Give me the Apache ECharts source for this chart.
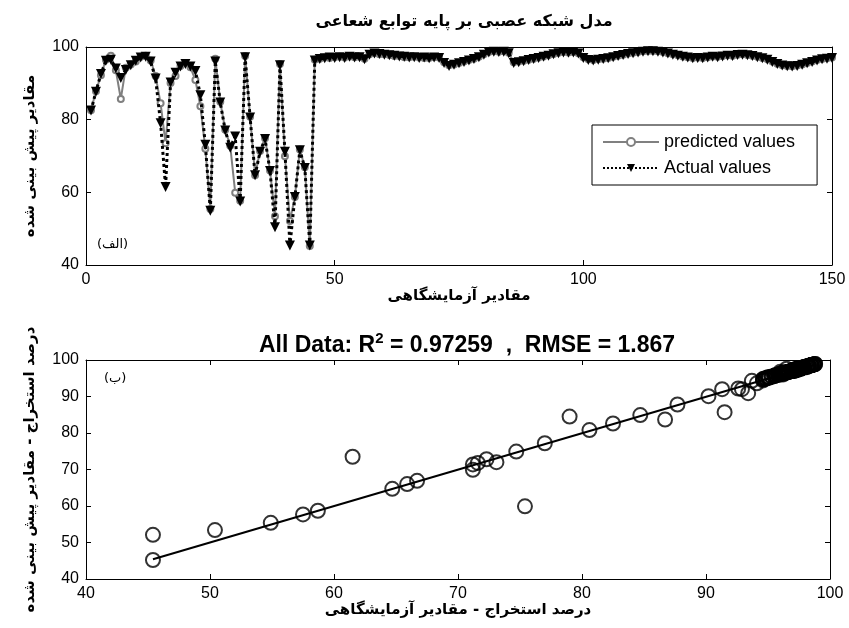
<!DOCTYPE html>
<html>
<head>
<meta charset="utf-8">
<script src="https://cdn.jsdelivr.net/npm/echarts@6/dist/echarts.min.js"></script>
<style>
  html, body { margin: 0; padding: 0; background: #fff; }
  #chart { width: 849px; height: 628px; }
</style>
</head>
<body>
<div id="chart"></div>
<script>
// measured (actual) extraction values, sample 1..150
const actualValues = [
  82.5, 87.7, 92.6, 96.2, 96.5, 94.1, 91.5, 93.7, 95.0, 96.2,
  97.1, 97.3, 96.0, 91.3, 79.0, 61.5, 90.2, 92.9, 94.6, 95.3,
  94.6, 93.4, 86.7, 73.1, 54.9, 96.0, 84.7, 77.0, 72.3, 75.4,
  57.5, 97.2, 80.6, 64.7, 71.2, 74.7, 65.9, 50.4, 95.0, 71.2,
  45.4, 58.7, 71.6, 66.7, 45.4,
  96.3, 96.7, 96.9, 97.1, 97.0, 97.2, 97.0, 97.3, 97.1, 97.2,
  96.6, 97.9, 98.2, 98.1, 97.9, 97.7, 97.6, 97.4, 97.3, 97.1,
  97.2, 97.0, 97.1, 96.9, 97.1, 97.0, 95.6, 94.8, 95.1, 95.5,
  95.9, 96.3, 96.7, 97.2, 97.9, 98.5, 98.7, 98.6, 98.7, 98.3,
  95.6, 95.8, 96.1, 96.4, 96.7, 97.0, 97.3, 97.6, 98.0, 98.3,
  98.5, 98.4, 98.5, 98.2, 97.0, 96.4, 96.3, 96.5, 96.7, 96.9,
  97.2, 97.5, 97.8, 98.1, 98.3, 98.5, 98.7, 98.8, 98.8, 98.7,
  98.5, 98.2, 97.9, 97.6, 97.3, 97.1, 96.9, 97.0, 96.9, 97.1,
  97.3, 97.2, 97.4, 97.6, 97.5, 97.8, 97.9, 97.7, 97.5, 97.2,
  96.9, 96.5, 95.9, 95.3, 94.9, 94.7, 94.6, 94.8, 95.1, 95.5,
  95.9, 96.3, 96.6, 96.8, 97.0
]

// RBF network predictions for the same samples
const predictedValues = [
  82.6, 87.8, 92.2, 96.5, 97.6, 93.6, 85.7, 94.3, 95.2, 96.0,
  97.3, 97.6, 96.3, 92.0, 84.5, 73.5, 90.1, 92.0, 94.8, 95.5,
  94.4, 90.9, 83.7, 72.0, 55.4, 96.8, 84.9, 77.2, 72.8, 59.9,
  57.7, 97.5, 80.8, 64.7, 71.4, 74.9, 66.0, 53.4, 95.3, 69.9,
  52.1, 58.7, 71.8, 66.9, 45.2,
  96.5, 96.8, 97.1, 97.0, 97.2, 97.3, 97.1, 97.4, 97.2, 97.3,
  96.8, 98.0, 98.3, 98.0, 98.0, 97.8, 97.5, 97.5, 97.2, 97.2,
  97.3, 97.1, 97.0, 97.0, 97.2, 97.1, 95.8, 95.0, 95.2, 95.6,
  96.0, 96.4, 96.8, 97.3, 98.0, 98.6, 98.8, 98.7, 98.8, 98.4,
  95.8, 96.0, 96.2, 96.5, 96.8, 97.1, 97.4, 97.7, 98.1, 98.4,
  98.6, 98.5, 98.6, 98.3, 97.2, 96.6, 96.4, 96.6, 96.8, 97.0,
  97.3, 97.6, 97.9, 98.2, 98.4, 98.6, 98.8, 98.9, 98.9, 98.8,
  98.6, 98.3, 98.0, 97.7, 97.4, 97.2, 97.0, 97.1, 97.0, 97.2,
  97.4, 97.3, 97.5, 97.7, 97.6, 97.9, 98.0, 97.8, 97.6, 97.3,
  97.0, 96.6, 96.0, 95.4, 95.0, 94.8, 94.7, 94.9, 95.2, 95.6,
  96.0, 96.4, 96.7, 96.9, 97.1
]

// regression fit line end points (actual -> predicted)
const fitLine = [[45.4, 45.4], [98.8, 98.7]]

const topTicksX = { min: 0, max: 150, interval: 50 }
const topTicksY = { min: 40, max: 100, interval: 20 }
const bottomTicks = { min: 40, max: 100, interval: 10 }

const faFont = 'DejaVu Sans'
const numFont = 'Liberation Sans'

const chart = echarts.init(document.getElementById('chart'), null, { renderer: 'canvas' })

const baseAxis = (extra) => ({
  type: 'value',
  axisLine: { show: true, onZero: false, lineStyle: { color: '#000', width: 1 } },
  axisTick: { show: true, inside: true, length: 5, lineStyle: { color: '#000' } },
  axisLabel: { color: '#000', fontSize: 16, fontFamily: numFont, margin: 7 },
  splitLine: { show: false },
  ...extra
})

const hiddenLabels = { axisLabel: { show: false } }

const nameStyle = { color: '#000', fontSize: 15, fontWeight: 'bold', fontFamily: faFont }

const option = {
  animation: false,
  backgroundColor: '#fff',
  title: [
    {
      text: 'مدل شبکه عصبی بر پایه توابع شعاعی',
      left: 459,
      top: 9,
      textAlign: 'center',
      textStyle: { fontSize: 16, fontWeight: 'bold', fontFamily: faFont, color: '#000' }
    },
    {
      text: 'All Data: R{sup|2} = 0.97259  ,  RMSE = 1.867',
      left: 462,
      top: 326,
      textAlign: 'center',
      textStyle: {
        fontSize: 23, fontWeight: 'bold', fontFamily: numFont, color: '#000',
        rich: {
          sup: { fontSize: 15, fontWeight: 'bold', fontFamily: numFont, verticalAlign: 'top', padding: [0, 0, 14, 0] }
        }
      }
    }
  ],
  legend: {
    orient: 'vertical',
    left: 592,
    top: 125,
    padding: [8, 22, 8, 10],
    itemWidth: 56,
    itemHeight: 10,
    itemGap: 8,
    borderColor: '#000',
    borderWidth: 1,
    backgroundColor: '#fff',
    textStyle: { fontSize: 18, fontFamily: numFont, color: '#000' },
    data: ['predicted values', 'Actual values']
  },
  grid: [
    { left: 86, right: 17, top: 47, height: 218 },
    { left: 86, right: 19, top: 360, height: 219 }
  ],
  xAxis: [
    baseAxis({
      gridIndex: 0, position: 'bottom', ...topTicksX,
      name: 'مقادیر آزمایشگاهی', nameLocation: 'middle', nameGap: 18, nameTextStyle: nameStyle
    }),
    baseAxis({ gridIndex: 0, position: 'top', ...topTicksX, ...hiddenLabels }),
    baseAxis({
      gridIndex: 1, position: 'bottom', ...bottomTicks,
      name: 'درصد استخراج - مقادیر آزمایشگاهی', nameLocation: 'middle', nameGap: 20, nameTextStyle: nameStyle
    }),
    baseAxis({ gridIndex: 1, position: 'top', ...bottomTicks, ...hiddenLabels })
  ],
  yAxis: [
    baseAxis({
      gridIndex: 0, position: 'left', ...topTicksY,
      name: 'مقادیر پیش بینی شده', nameLocation: 'middle', nameGap: 48, nameTextStyle: nameStyle
    }),
    baseAxis({ gridIndex: 0, position: 'right', ...topTicksY, ...hiddenLabels }),
    baseAxis({
      gridIndex: 1, position: 'left', ...bottomTicks,
      name: 'درصد استخراج - مقادیر پیش بینی شده', nameLocation: 'middle', nameGap: 48, nameTextStyle: nameStyle
    }),
    baseAxis({ gridIndex: 1, position: 'right', ...bottomTicks, ...hiddenLabels })
  ],
  graphic: [
    { type: 'text', left: 97, top: 238, style: { text: '(الف)', fontSize: 13, fontFamily: faFont, fill: '#000' } },
    { type: 'text', left: 104, top: 372, style: { text: '(ب)', fontSize: 13, fontFamily: faFont, fill: '#000' } }
  ],
  series: [
    {
      name: 'predicted values',
      type: 'line',
      xAxisIndex: 0,
      yAxisIndex: 0,
      data: predictedValues.map((v, i) => [i + 1, v]),
      symbol: 'emptyCircle',
      symbolSize: 6,
      itemStyle: { color: '#808080', borderWidth: 1.5 },
      lineStyle: { color: '#808080', width: 2 },
      z: 2
    },
    {
      name: 'Actual values',
      type: 'line',
      xAxisIndex: 0,
      yAxisIndex: 0,
      data: actualValues.map((v, i) => [i + 1, v]),
      symbol: 'triangle',
      symbolRotate: 180,
      symbolSize: 10,
      itemStyle: { color: '#000' },
      lineStyle: { color: '#000', width: 3, type: 'dotted' },
      z: 3
    },
    {
      type: 'line',
      xAxisIndex: 2,
      yAxisIndex: 2,
      data: fitLine,
      symbol: 'none',
      lineStyle: { color: '#000', width: 2 },
      z: 2
    },
    {
      type: 'scatter',
      xAxisIndex: 2,
      yAxisIndex: 2,
      data: actualValues.map((v, i) => [v, predictedValues[i]]),
      symbol: 'circle',
      symbolSize: 14,
      itemStyle: { color: 'rgba(0,0,0,0)', borderColor: '#000', borderWidth: 2 },
      z: 3
    }
  ]
}

chart.setOption(option)
</script>
</body>
</html>
